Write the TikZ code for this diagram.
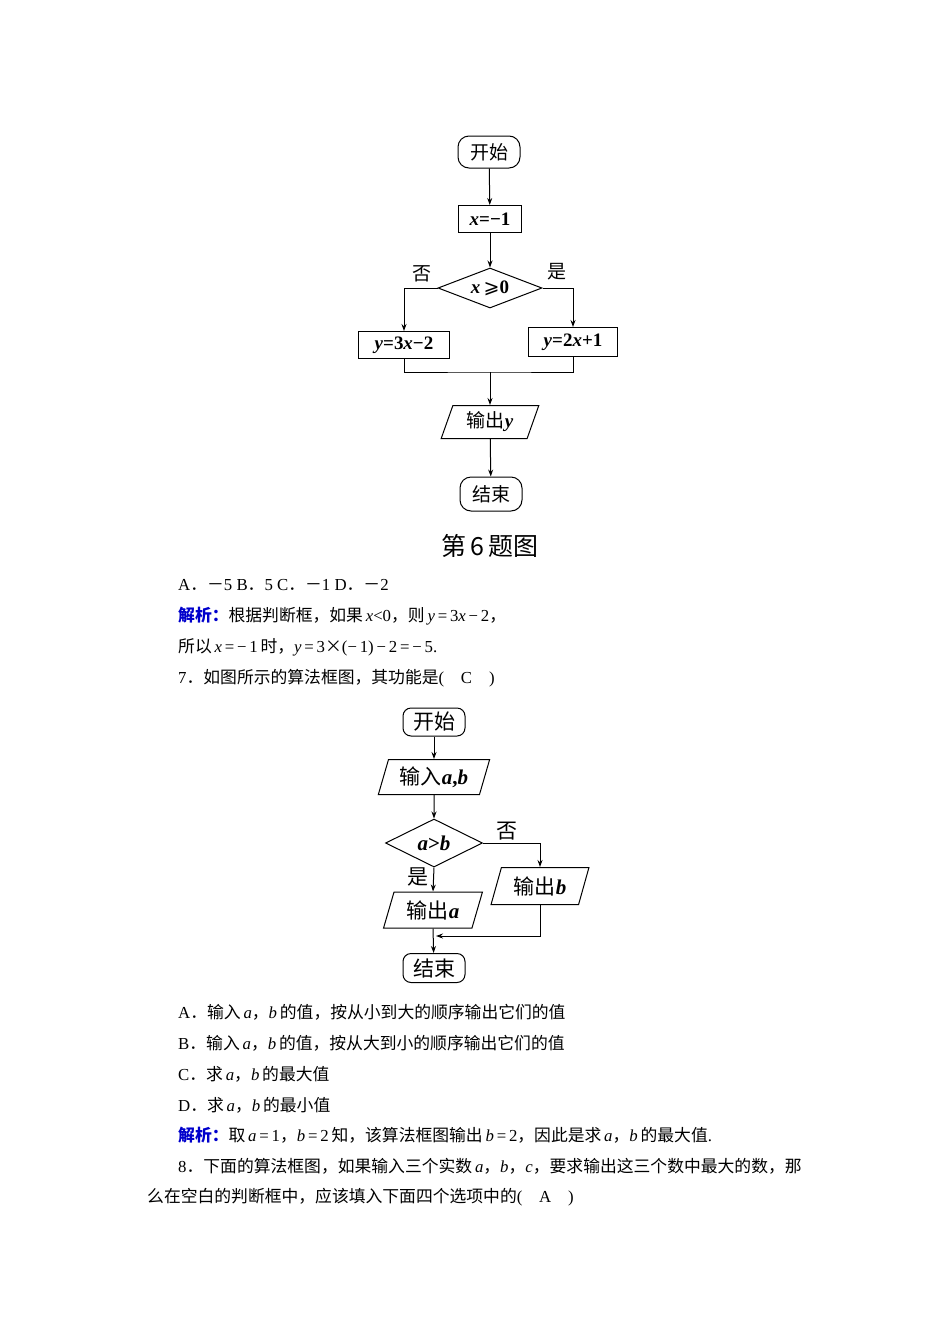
\documentclass[tikz,border=0pt]{standalone}
\usepackage{fontspec}
\setmainfont{Liberation Serif}
\newfontfamily\cjk{Noto Sans CJK SC}
\newcommand{\fdot}{{\cjk ．}}
\usetikzlibrary{shapes.geometric,arrows.meta}
\begin{document}
\begin{tikzpicture}[x=1pt,y=-1pt,
  line/.style={draw,line width=1pt},
  arr/.style={line,-{Stealth[length=7pt,width=5pt]}},
  term/.style={draw,line width=1pt,rounded corners=11pt,minimum width=62pt,minimum height=32pt,inner sep=0pt},
  term2/.style={draw,line width=1pt,rounded corners=8pt,minimum width=62pt,minimum height=28pt,inner sep=0pt},
  proc/.style={draw,line width=1pt,minimum height=27pt,inner sep=2pt},
  dec/.style={draw,line width=1pt,diamond,aspect=2.5,inner sep=0pt},
  io/.style={draw,line width=1pt,trapezium,trapezium left angle=70,trapezium right angle=110,trapezium stretches=true,inner sep=0pt},
  txt/.style={anchor=west,inner sep=0pt,font=\fontsize{16.8}{19}\selectfont},
  f1/.style={font=\fontsize{19}{22}\selectfont},
  f2/.style={font=\fontsize{21}{24}\selectfont}]
\useasboundingbox (0,0) rectangle (950,1344);
% flowchart 1
\node[term,f1] (s1) at (489,152) {\cjk 开始};
\node[proc,f1,minimum width=63pt] (x1) at (490,219) {\textbf{\textit{x}=−1}};
\node[dec,f1,minimum width=104pt,minimum height=40pt] (d1) at (490,288) {\textbf{\textit{x}}\,{\fontspec{DejaVu Sans}⩾}\textbf{0}};
\node[proc,f1,minimum width=91pt] (l1) at (404,345) {\textbf{\textit{y}=3\textit{x}−2}};
\node[proc,f1,minimum width=89pt,minimum height=29pt] (r1) at (573,342) {\textbf{\textit{y}=2\textit{x}+1}};
\node[io,f1,minimum width=98pt,minimum height=33pt] (o1) at (490,422) {{\cjk 输出}\textbf{\textit{y}}};
\node[term,f1,minimum height=34pt] (e1) at (491,494) {\cjk 结束};
\node[font=\fontsize{25}{28}\selectfont] (c1) at (490,546) {\cjk 第\,6\,题图};
\node[f1] (no1) at (422,274) {\cjk 否};
\node[f1] (yes1) at (557,272) {\cjk 是};
\coordinate (j1) at (490,372);
\draw[arr] (s1) -- (x1);
\draw[arr] (x1) -- (d1);
\draw[arr] (d1.west) -| (l1.north);
\draw[arr] (d1.east) -| (r1.north);
\draw[line] (l1.south) |- (j1) -| (r1.south);
\draw[arr] (j1) -- (o1);
\draw[arr] (o1) -- (e1);
% text block 1
\node[txt] (t1) at (178,585) {A\fdot{\cjk －}5 B\fdot 5 C\fdot{\cjk －}1 D\fdot{\cjk －}2};
\node[txt] (t2) at (178,616) {{\cjk\bfseries\color{blue!80!black}解析：}{\cjk 根据判断框，如果}\,\textit{x}<0{\cjk ，则}\,\textit{y}\,=\,3\textit{x}\,−\,2{\cjk ，}};
\node[txt] (t3) at (178,647) {{\cjk 所以}\,\textit{x}\,=\,−\,1\,{\cjk 时，}\textit{y}\,=\,3{\cjk ×}(−\,1)\,−\,2\,=\,−\,5.};
\node[txt] (t4) at (178,678) {7\fdot{\cjk 如图所示的算法框图，其功能是}(\quad C\quad )};
% flowchart 2
\node[term2,f2] (s2) at (434,722) {\cjk 开始};
\node[io,f2,minimum width=112pt,minimum height=35pt] (i2) at (434,777) {{\cjk 输入}\textbf{\textit{a},\textit{b}}};
\node[dec,f2,minimum width=97pt,minimum height=48pt,aspect=2] (d2) at (434,843) {\textbf{\textit{a}>\textit{b}}};
\node[io,f2,minimum width=98pt,minimum height=37pt] (ob) at (540,886) {{\cjk 输出}\textbf{\textit{b}}};
\node[io,f2,minimum width=99pt,minimum height=36pt] (oa) at (433,910) {{\cjk 输出}\textbf{\textit{a}}};
\node[term2,f2,minimum height=29pt] (e2) at (434,968) {\cjk 结束};
\node[f2] (no2) at (507,831) {\cjk 否};
\node[f2] (yes2) at (418,877) {\cjk 是};
\coordinate (j2) at (436,936);
\draw[arr] (s2) -- (i2);
\draw[arr] (i2) -- (d2);
\draw[arr] (d2.east) -| (ob.north);
\draw[arr] (d2.south) -- (oa.north);
\draw[arr] (ob.south) |- (j2);
\draw[arr] (oa.south) -- (e2);
% text block 2
\node[txt] (u1) at (178,1012) {A\fdot{\cjk 输入}\,\textit{a}{\cjk ，}\textit{b}\,{\cjk 的值，按从小到大的顺序输出它们的值}};
\node[txt] (u2) at (178,1043) {B\fdot{\cjk 输入}\,\textit{a}{\cjk ，}\textit{b}\,{\cjk 的值，按从大到小的顺序输出它们的值}};
\node[txt] (u3) at (178,1074) {C\fdot{\cjk 求}\,\textit{a}{\cjk ，}\textit{b}\,{\cjk 的最大值}};
\node[txt] (u4) at (178,1105) {D\fdot{\cjk 求}\,\textit{a}{\cjk ，}\textit{b}\,{\cjk 的最小值}};
\node[txt] (u5) at (178,1135) {{\cjk\bfseries\color{blue!80!black}解析：}{\cjk 取}\,\textit{a}\,=\,1{\cjk ，}\textit{b}\,=\,2\,{\cjk 知，该算法框图输出}\,\textit{b}\,=\,2{\cjk ，因此是求}\,\textit{a}{\cjk ，}\textit{b}\,{\cjk 的最大值}.};
\node[txt] (u6) at (178,1166) {8\fdot{\cjk 下面的算法框图，如果输入三个实数}\,\textit{a}{\cjk ，}\textit{b}{\cjk ，}\textit{c}{\cjk ，要求输出这三个数中最大的数，那}};
\node[txt] (u7) at (147,1197) {{\cjk 么在空白的判断框中，应该填入下面四个选项中的}(\quad A\quad )};
\end{tikzpicture}
\end{document}
